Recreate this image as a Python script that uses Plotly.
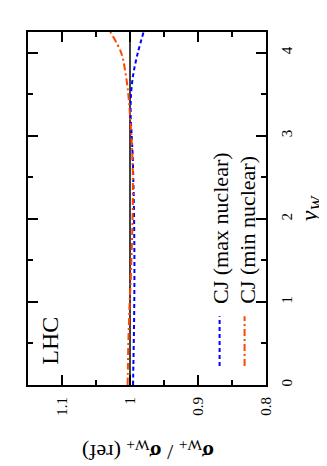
import plotly.graph_objects as go

# rapidity y_W
y_w = [0, 0.25, 0.5, 0.75, 1.0, 1.25, 1.5, 1.75, 2.0, 2.25, 2.5, 2.75, 3.0, 3.25, 3.5, 3.75, 4.0, 4.25]
# ratio sigma_W+ / sigma_W+(ref)
ratio_ref = [1.0] * len(y_w)
ratio_max_nuclear = [0.9955, 0.995, 0.9945, 0.994, 0.9937, 0.9935, 0.9935, 0.9937, 0.994, 0.9945,
                     0.9952, 0.996, 0.9975, 0.999, 0.9985, 0.995, 0.9885, 0.980]
ratio_min_nuclear = [1.0035, 1.003, 1.0025, 1.0015, 1.0005, 0.999, 0.998, 0.997, 0.9962, 0.9958,
                     0.9958, 0.9965, 0.998, 1.0, 1.0025, 1.0065, 1.013, 1.029]

ratio_ticks = [0.8, 0.9, 1.0, 1.1]
ratio_tick_text = ["0.8", "0.9", "1", "1.1"]
yw_ticks = [0, 1, 2, 3, 4]

FONT = "Liberation Serif, Times New Roman, serif"
BLUE = "#0000ff"
ORANGE = "#ff4500"

fig = go.Figure()
fig.add_trace(go.Scatter(x=ratio_ref, y=y_w, mode="lines",
                         line=dict(color="black", width=1.5), showlegend=False))
fig.add_trace(go.Scatter(x=ratio_max_nuclear, y=y_w, mode="lines", line_shape="spline",
                         line=dict(color=BLUE, width=2, dash="4px,3px"), showlegend=False))
fig.add_trace(go.Scatter(x=ratio_min_nuclear, y=y_w, mode="lines", line_shape="spline",
                         line=dict(color=ORANGE, width=2, dash="7px,3px,2px,3px"), showlegend=False))

axis_common = dict(showline=True, linecolor="black", linewidth=2, mirror="allticks",
                   ticks="inside", ticklen=10, tickwidth=1.5, tickcolor="black",
                   showgrid=False, zeroline=False,
                   tickfont=dict(family=FONT, size=15, color="black"))

fig.update_xaxes(range=[1.15, 0.8], tickvals=ratio_ticks, ticktext=ratio_tick_text,
                 tickangle=-90, ticklabelstandoff=4,
                 minor=dict(ticks="inside", ticklen=5, tickwidth=1.5, tickcolor="black", dtick=0.05,
                            tick0=0.8, showgrid=False),
                 **axis_common)
fig.update_yaxes(range=[0, 4.25], tickvals=yw_ticks, side="right", tickangle=-90,
                 ticklabelstandoff=6,
                 minor=dict(ticks="inside", ticklen=5, tickwidth=1.5, tickcolor="black", dtick=0.5,
                            tick0=0, showgrid=False),
                 **axis_common)

annotations = [
    dict(text="LHC", x=0.092, y=0.125, xref="paper", yref="paper", showarrow=False,
         textangle=-90, font=dict(family=FONT, size=24, color="black"), xanchor="center", yanchor="middle"),
    dict(text="CJ (max nuclear)", x=0.811, y=0.224, xref="paper", yref="paper", showarrow=False,
         textangle=-90, font=dict(family=FONT, size=22, color="black"), xanchor="center", yanchor="bottom"),
    dict(text="CJ (min nuclear)", x=0.924, y=0.224, xref="paper", yref="paper", showarrow=False,
         textangle=-90, font=dict(family=FONT, size=22, color="black"), xanchor="center", yanchor="bottom"),
    dict(text="<i>y<sub>W</sub></i>", x=1.189, y=0.501, xref="paper", yref="paper", showarrow=False,
         textangle=-90, font=dict(family=FONT, size=24, color="black"), xanchor="center", yanchor="middle"),
    dict(text="<b>σ</b><sub>W+</sub> / <b>σ</b><sub>W+</sub> (ref)", x=0.504, y=-0.187,
         xref="paper", yref="paper",
         showarrow=False, textangle=180, font=dict(family=FONT, size=22, color="black"),
         xanchor="center", yanchor="middle"),
]

shapes = [
    dict(type="line", xref="paper", yref="paper", x0=0.805, x1=0.805, y0=0.054, y1=0.195,
         line=dict(color=BLUE, width=2, dash="4px,3px")),
    dict(type="line", xref="paper", yref="paper", x0=0.910, x1=0.910, y0=0.054, y1=0.195,
         line=dict(color=ORANGE, width=2, dash="7px,3px,2px,3px")),
]

fig.update_layout(width=327, height=466, margin=dict(l=20, r=69, t=24, b=89),
                  paper_bgcolor="white", plot_bgcolor="white",
                  annotations=annotations, shapes=shapes, showlegend=False)

fig.write_html("out.html")
